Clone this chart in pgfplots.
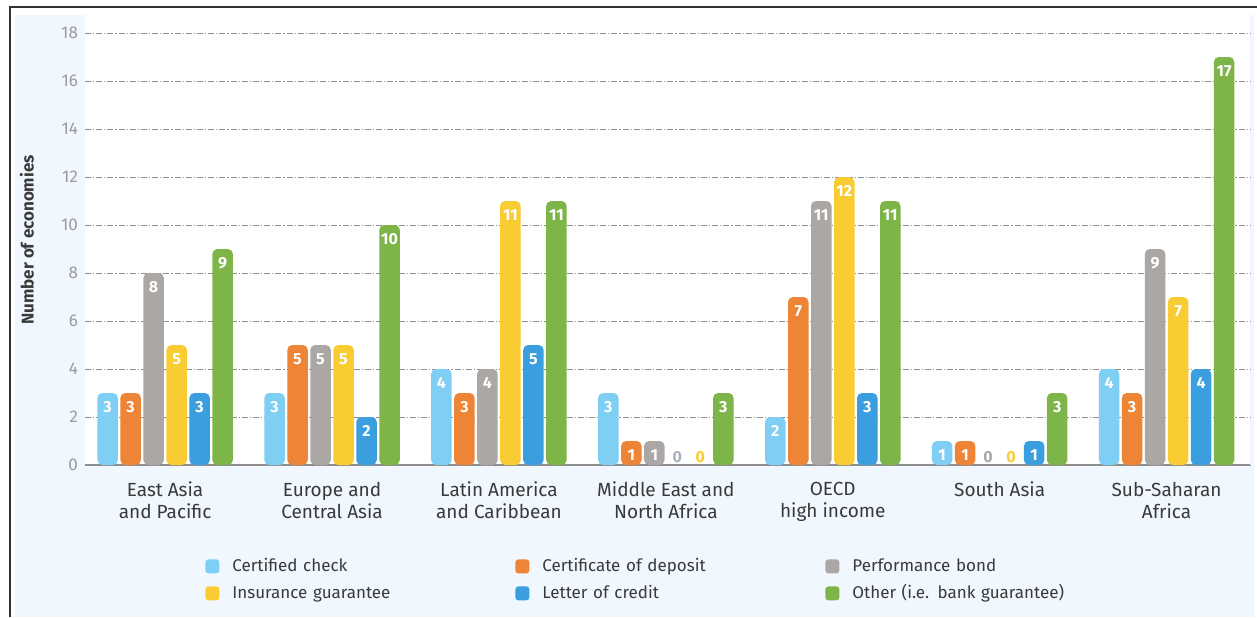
\documentclass[border=0pt]{standalone}
\usepackage{fontspec}
\setmainfont{Fira Sans}
\usepackage{pgfplots}
\pgfplotsset{compat=1.18}
\definecolor{ccC}{HTML}{7FCEF4}
\definecolor{cdC}{HTML}{EE8436}
\definecolor{pbC}{HTML}{ABA7A5}
\definecolor{igC}{HTML}{F9CC33}
\definecolor{lcC}{HTML}{3A9EDF}
\definecolor{otC}{HTML}{7EB548}
\definecolor{bgC}{HTML}{F0F7FE}
\definecolor{tickC}{HTML}{9B9B9B}
\definecolor{gridC}{HTML}{8F8F8F}
\definecolor{txtC}{HTML}{3A3A3A}
\definecolor{zeroC}{HTML}{A8B0C0}
\begin{document}
\begin{tikzpicture}
\useasboundingbox (0,0) rectangle (628.5pt,308.5pt);
\fill[bgC] (7.5pt,0) rectangle (627pt,301pt);
\draw[line width=1pt, black!80] (5pt,0) -- (5pt,305pt) -- (628.5pt,305pt);
\begin{axis}[
  at={(42.5pt,76pt)}, anchor=south west,
  scale only axis, width=582.5pt, height=225pt,
  xmin=-0.48, xmax=6.5, ymin=0, ymax=18.75,
  axis background/.style={fill=white},
  axis x line*=bottom, axis y line*=left,
  y axis line style={draw=none},
  x axis line style={draw=gridC, line width=0.6pt, -},
  major tick length=0pt,
  ytick={0,2,...,18},
  ymajorgrids,
  grid style={gridC, line width=0.5pt, dash pattern=on 3pt off 1pt on 0.6pt off 1pt},
  /pgf/number format/assume math mode=true,
  yticklabel style={text=tickC, font=\fontsize{8.5}{10}\selectfont},
  xtick={0,...,6},
  xticklabels={{East Asia\\and Pacific},{Europe and\\Central Asia},{Latin America\\and Caribbean},{Middle East and\\North Africa},{OECD\\high income},{South Asia},{Sub-Saharan\\Africa}},
  xticklabel style={align=center, text=txtC, font=\fontsize{9.5}{11}\selectfont, yshift=-5pt},
  ylabel={Number of economies},
  every axis y label/.style={at={(rel axis cs:-0.0498,0.5)}, rotate=90, anchor=center, text=txtC, font=\bfseries\fontsize{8.5}{10}\selectfont},
  ybar, bar width=10.25pt,
  every axis plot/.append style={draw=none, rounded corners=2.5pt},
  nodes near coords,
  every node near coord/.append style={text=white, anchor=north, yshift=-4pt, inner sep=0pt, font=\bfseries\fontsize{8}{9}\selectfont, rounded corners=0pt},
  legend columns=3,
  legend style={at={(0.103,-0.2044)}, anchor=north west, draw=none, fill=none, inner sep=0pt,
    column sep=0pt, row sep=4.5pt,
    /tikz/every odd column/.style={column sep=6.5pt},
    nodes={text width=141.5pt, align=left, inner xsep=0pt, inner ysep=0pt, text height=7pt, text depth=2pt, text=txtC, font=\fontsize{8.5}{10}\selectfont}},
  legend image code/.code={\fill[#1,/tikz/.cd,draw=none,rounded corners=1.5pt] (0pt,-3.5pt) rectangle (7pt,3.5pt);},
]
\addplot[fill=ccC, bar shift=-28.75pt] coordinates {(0,3)(1,3)(2,4)(3,3)(4,2)(5,1)(6,4)};
\addplot[fill=cdC, bar shift=-17.25pt] coordinates {(0,3)(1,5)(2,3)(3,1)(4,7)(5,1)(6,3)};
\addplot[fill=pbC, bar shift=-5.75pt] coordinates {(0,8)(1,5)(2,4)(3,1)(4,11)(6,9)};
\addplot[fill=igC, bar shift=5.75pt] coordinates {(0,5)(1,5)(2,11)(4,12)(6,7)};
\addplot[fill=lcC, bar shift=17.25pt] coordinates {(0,3)(1,2)(2,5)(4,3)(5,1)(6,4)};
\addplot[fill=otC, bar shift=28.75pt] coordinates {(0,9)(1,10)(2,11)(3,3)(4,11)(5,3)(6,17)};
% zero-valued bars: only their labels show
\addplot[forget plot, fill=none, bar shift=-5.75pt, every node near coord/.append style={text=pbC, anchor=south, yshift=4.8pt}] coordinates {(5,0)};
\addplot[forget plot, fill=none, bar shift=5.75pt, every node near coord/.append style={text=zeroC, anchor=south, yshift=4.8pt}] coordinates {(3,0)};
\addplot[forget plot, fill=none, bar shift=5.75pt, every node near coord/.append style={text=igC, anchor=south, yshift=4.8pt}] coordinates {(5,0)};
\addplot[forget plot, fill=none, bar shift=17.25pt, every node near coord/.append style={text=igC, anchor=south, yshift=4.8pt}] coordinates {(3,0)};
\legend{Certified check, Certificate of deposit, Performance bond, Insurance guarantee, Letter of credit, Other (i.e. bank guarantee)}
\end{axis}
\end{tikzpicture}
\end{document}
